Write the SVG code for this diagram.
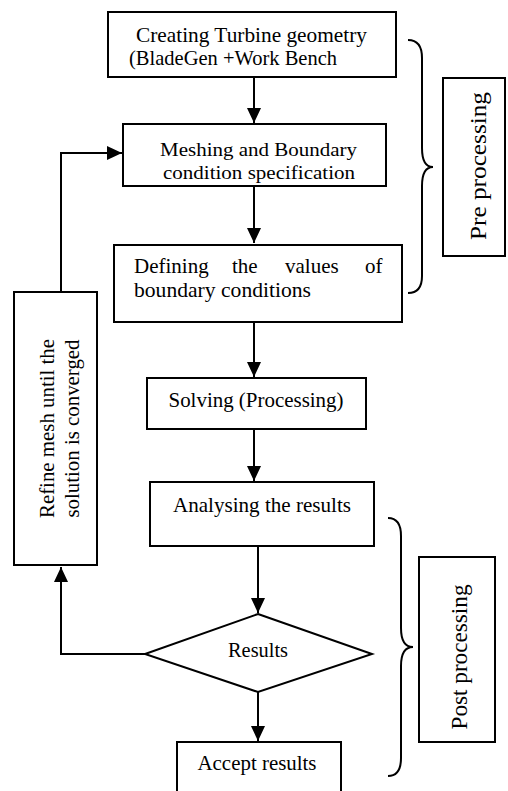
<svg xmlns="http://www.w3.org/2000/svg" width="508" height="791" viewBox="0 0 508 791">
<style>
  .box { fill: #ffffff; stroke: #000000; stroke-width: 2; }
  .line { fill: none; stroke: #000000; stroke-width: 2; }
  .brace { fill: none; stroke: #000000; stroke-width: 2; }
  .t { font-family: "Liberation Serif", "DejaVu Serif", serif; font-size: 21px; fill: #000000; }
  .ts { font-size: 19px; }
  .tm { text-anchor: middle; }
  .side { font-family: "Liberation Serif", "Times New Roman", serif; font-size: 24px; fill: #000000; text-anchor: middle; }
</style>
<defs>
  <marker id="arrow" markerUnits="userSpaceOnUse" markerWidth="16" markerHeight="16" viewBox="0 0 16 16" refX="15" refY="8" orient="auto">
    <path d="M0,1 L15,8 L0,15 Z" fill="#000000"/>
  </marker>
  <clipPath id="clip2"><rect x="124" y="125" width="261" height="60"/></clipPath>
</defs>
<rect x="0" y="0" width="508" height="791" fill="#ffffff"/>

<g id="connectors">
  <line class="line" x1="254" y1="77" x2="254" y2="123" marker-end="url(#arrow)"/>
  <line class="line" x1="254" y1="187" x2="254" y2="243" marker-end="url(#arrow)"/>
  <line class="line" x1="254" y1="323" x2="254" y2="377" marker-end="url(#arrow)"/>
  <line class="line" x1="254" y1="430" x2="254" y2="481" marker-end="url(#arrow)"/>
  <line class="line" x1="258" y1="546" x2="258" y2="613" marker-end="url(#arrow)"/>
  <line class="line" x1="258" y1="692" x2="258" y2="741" marker-end="url(#arrow)"/>
  <polyline class="line" points="145,654 61,654 61,567" marker-end="url(#arrow)"/>
  <polyline class="line" points="61,292 61,153 122,153" marker-end="url(#arrow)"/>
</g>

<g id="n1">
  <rect class="box" x="108" y="12" width="288" height="65"/>
  <text class="t" x="136" y="42" textLength="231" lengthAdjust="spacingAndGlyphs">Creating Turbine geometry</text>
  <text class="t" x="129" y="65" textLength="208" lengthAdjust="spacingAndGlyphs">(BladeGen +Work Bench</text>
</g>

<g id="n2">
  <rect class="box" x="123" y="124" width="263" height="62"/>
  <g clip-path="url(#clip2)">
    <text class="t ts" x="160" y="156" textLength="197" lengthAdjust="spacingAndGlyphs">Meshing and Boundary</text>
    <text class="t ts" x="163" y="179" textLength="192" lengthAdjust="spacingAndGlyphs">condition specification</text>
  </g>
</g>

<g id="n3">
  <rect class="box" x="114" y="245" width="288" height="77"/>
  <text class="t"><tspan x="134" y="273">Defining</tspan><tspan x="232" y="273">the</tspan><tspan x="285" y="273">values</tspan><tspan x="365" y="273">of</tspan></text>
  <text class="t" x="134" y="297" textLength="177" lengthAdjust="spacingAndGlyphs">boundary conditions</text>
</g>

<g id="n4">
  <rect class="box" x="147" y="378" width="219" height="51"/>
  <text class="t tm" x="256" y="407" textLength="175" lengthAdjust="spacingAndGlyphs">Solving (Processing)</text>
</g>

<g id="n5">
  <rect class="box" x="150" y="482" width="224" height="64"/>
  <text class="t tm" x="262" y="512" textLength="178" lengthAdjust="spacingAndGlyphs">Analysing the results</text>
</g>

<g id="n6">
  <polygon class="box" points="258,614 372,654 258,692 145,654"/>
  <text class="t tm" x="258" y="657" textLength="60" lengthAdjust="spacingAndGlyphs">Results</text>
</g>

<g id="n7">
  <rect class="box" x="177" y="742" width="164" height="60"/>
  <text class="t tm" x="257" y="770" textLength="119" lengthAdjust="spacingAndGlyphs">Accept results</text>
</g>

<g id="n8">
  <rect class="box" x="14" y="292" width="83" height="273"/>
  <g transform="translate(0,428.5) rotate(-90)">
    <text class="t tm" x="0" y="54" textLength="179" lengthAdjust="spacingAndGlyphs">Refine mesh until the</text>
    <text class="t tm" x="0" y="79" textLength="178" lengthAdjust="spacingAndGlyphs">solution is converged</text>
  </g>
</g>

<g id="pre">
  <path class="brace" d="M408,40 Q422,40 422,58 L422,148 Q422,167 433,167 Q422,167 422,186 L422,276 Q422,293 408,293"/>
  <rect class="box" x="443" y="78" width="62" height="178"/>
  <text class="side" transform="translate(486,166) rotate(-90)" textLength="148" lengthAdjust="spacingAndGlyphs">Pre processing</text>
</g>

<g id="post">
  <path class="brace" d="M388,518 Q401,518 401,536 L401,628 Q401,647 413,647 Q401,647 401,666 L401,758 Q401,776 388,776"/>
  <rect class="box" x="419" y="557" width="76" height="185"/>
  <text class="side" transform="translate(467,657) rotate(-90)" textLength="145" lengthAdjust="spacingAndGlyphs">Post processing</text>
</g>
</svg>
